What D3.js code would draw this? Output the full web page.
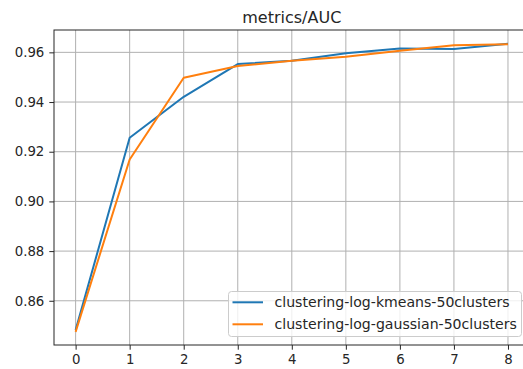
<!DOCTYPE html>
<html>
<head>
<meta charset="utf-8">
<script src="https://cdn.jsdelivr.net/npm/d3@7"></script>
<style>
  body { margin: 0; background: #fff; }
  svg { display: block; font-family: "DejaVu Sans", sans-serif; }
</style>
</head>
<body>
<svg id="chart" width="523" height="369"></svg>
<script>
// data
const steps = [0, 1, 2, 3, 4, 5, 6, 7, 8];
const kmeansAUC = [0.8482, 0.9256, 0.9421, 0.9553, 0.9566, 0.9596, 0.9616, 0.9614, 0.9635];
const gaussianAUC = [0.8475, 0.9169, 0.9498, 0.9545, 0.9566, 0.9582, 0.9606, 0.9629, 0.9633];
const xTicks = [0, 1, 2, 3, 4, 5, 6, 7, 8];
const yTicks = [0.86, 0.88, 0.90, 0.92, 0.94, 0.96];
const seriesNames = ["clustering-log-kmeans-50clusters", "clustering-log-gaussian-50clusters"];
const colors = ["#1f77b4", "#ff7f0e"];

const plotLeft = 54, plotTop = 30, plotBottom = 345, plotRight = 529.6;
const svg = d3.select("#chart");

const x = d3.scaleLinear().domain([-0.4, 8.4]).range([plotLeft, plotRight]);
const y = d3.scaleLinear().domain([0.8422, 0.969]).range([plotBottom, plotTop]);

// grid
const grid = svg.append("g");
grid.selectAll(".gx").data(xTicks).enter().append("line")
    .attr("x1", d => x(d)).attr("x2", d => x(d))
    .attr("y1", plotTop).attr("y2", plotBottom)
    .attr("stroke", "#b0b0b0").attr("stroke-width", 1);
grid.selectAll(".gy").data(yTicks).enter().append("line")
    .attr("x1", plotLeft).attr("x2", plotRight)
    .attr("y1", d => y(d)).attr("y2", d => y(d))
    .attr("stroke", "#b0b0b0").attr("stroke-width", 1);

// lines
const line = d3.line().x((d, i) => x(steps[i])).y(d => y(d));
[kmeansAUC, gaussianAUC].forEach(function(vals, i) {
    svg.append("path")
        .datum(vals)
        .attr("fill", "none")
        .attr("stroke", colors[i])
        .attr("stroke-width", 2)
        .attr("stroke-linejoin", "round")
        .attr("d", line);
});

// axes
const xAxis = svg.append("g")
    .attr("transform", `translate(0,${plotBottom})`)
    .call(d3.axisBottom(x).tickValues(xTicks).tickSize(4.7).tickPadding(5).tickSizeOuter(0));
const yAxis = svg.append("g")
    .attr("transform", `translate(${plotLeft},0)`)
    .call(d3.axisLeft(y).tickValues(yTicks).tickFormat(d3.format(".2f")).tickSize(4.7).tickPadding(5).tickSizeOuter(0));
[xAxis, yAxis].forEach(function(a) {
    a.select(".domain").remove();
    a.selectAll("text").attr("font-size", 13.3).attr("fill", "#262626").attr("font-family", "DejaVu Sans");
    a.selectAll("line").attr("stroke", "#262626").attr("stroke-width", 1);
});

// spines
svg.append("rect")
    .attr("x", plotLeft).attr("y", plotTop)
    .attr("width", plotRight - plotLeft).attr("height", plotBottom - plotTop)
    .attr("fill", "none").attr("stroke", "#262626").attr("stroke-width", 1);

// title
svg.append("text")
    .attr("x", (plotLeft + plotRight) / 2).attr("y", 22.5)
    .attr("text-anchor", "middle")
    .attr("font-size", 16)
    .attr("fill", "#262626")
    .text("metrics/AUC");

// legend
const lg = svg.append("g");
lg.append("rect")
    .attr("x", 228.5).attr("y", 291.5).attr("width", 293).attr("height", 45)
    .attr("rx", 3).attr("fill", "#fff").attr("fill-opacity", 0.8)
    .attr("stroke", "#cccccc").attr("stroke-width", 1);
seriesNames.forEach(function(name, i) {
    const ly = 302.3 + i * 22;
    lg.append("line")
        .attr("x1", 232.5).attr("x2", 263).attr("y1", ly).attr("y2", ly)
        .attr("stroke", colors[i]).attr("stroke-width", 2);
    lg.append("text")
        .attr("x", 274.5).attr("y", ly + 5)
        .attr("font-size", 14.1).attr("fill", "#262626")
        .text(name);
});
</script>
</body>
</html>
